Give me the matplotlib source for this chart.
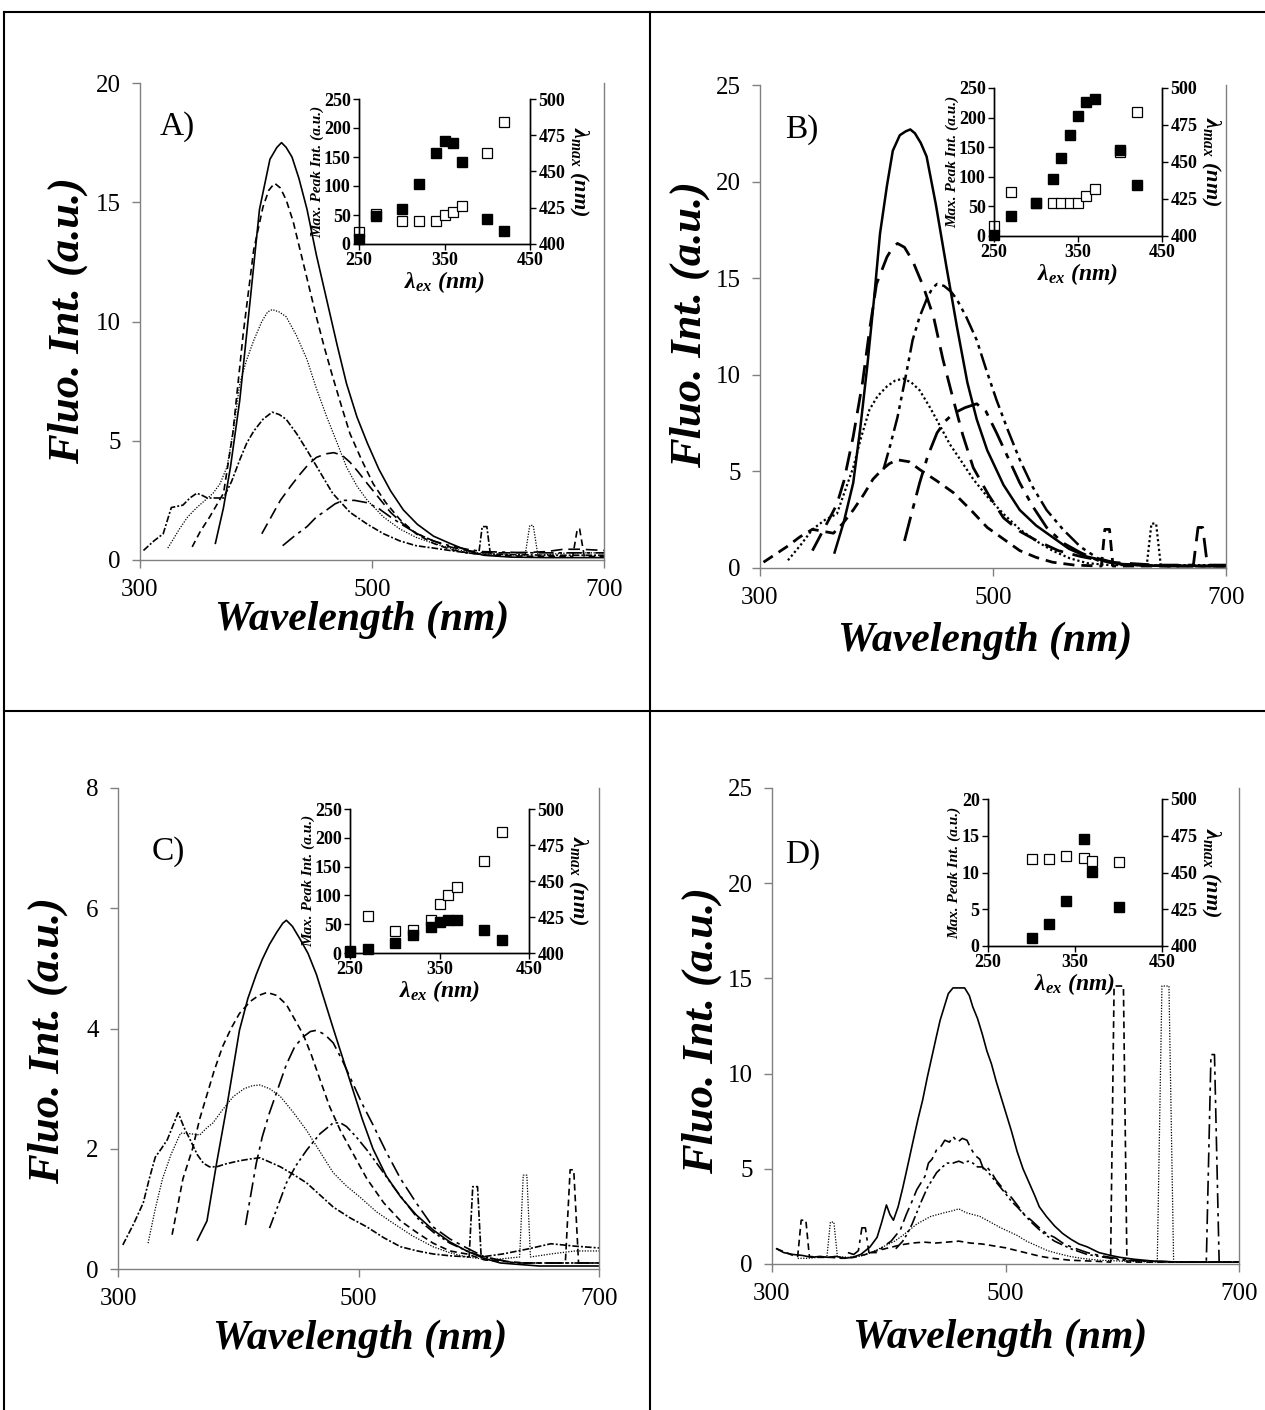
import matplotlib
matplotlib.use("Agg")
from matplotlib import pyplot as plt
from matplotlib.lines import Line2D

plt.rcParams['font.family'] = ['Liberation Serif', 'DejaVu Serif']
plt.rcParams['mathtext.fontset'] = 'custom'
plt.rcParams['mathtext.rm'] = 'Liberation Serif:bold'
plt.rcParams['mathtext.it'] = 'Liberation Serif:bold:italic'
plt.rcParams['mathtext.bf'] = 'Liberation Serif:bold'

# ---- emission spectra, (wavelength nm, intensity a.u.), one list per excitation ----
# panel A
a350 = [(365,0.7),(372,2.2),(378,3.9),(386,6.7),(395,10.9),(403,14.7),(412,16.8),(418,17.3),(422,17.5),
        (426,17.3),(431,16.9),(437,16.0),(444,14.7),(452,12.8),(461,10.9),(470,9.0),(478,7.4),(487,6.0),
        (496,4.9),(506,3.8),(516,2.9),(527,2.1),(539,1.5),(553,1.0),(567,0.7),(582,0.4),(596,0.2),
        (620,0.12),(650,0.1),(700,0.1)]
a340 = [(345,0.55),(352,1.2),(360,1.8),(366,2.3),(372,2.8),(380,5.3),(389,9.5),(398,13.0),(406,14.8),
        (411,15.5),(416,15.8),(421,15.6),(426,15.1),(432,14.2),(438,13.0),(445,11.6),(452,10.2),(459,8.9),
        (466,7.7),(474,6.4),(481,5.3),(491,4.2),(501,3.2),(512,2.4),(524,1.7),(538,1.1),(553,0.7),
        (567,0.45),(582,0.3),(600,0.2),(640,0.15),(673,0.15),(677,1.3),(679,1.3),(683,0.15),(700,0.15)]
a320 = [(324,0.5),(334,1.3),(341,1.8),(349,2.2),(356,2.5),(363,2.8),(369,3.2),(375,3.9),(381,5.6),
        (386,7.4),(392,8.4),(398,9.2),(405,10.0),(410,10.4),(414,10.5),(420,10.4),(426,10.2),(435,9.4),
        (444,8.4),(452,7.2),(461,6.0),(470,4.9),(478,3.9),(487,3.1),(496,2.5),(510,1.8),(524,1.3),
        (538,0.95),(553,0.7),(567,0.5),(582,0.35),(600,0.25),(632,0.2),(636,1.45),(639,1.45),(643,0.2),
        (670,0.3),(700,0.3)]
a300 = [(303,0.4),(312,0.8),(320,1.1),(327,2.2),(337,2.3),(343,2.6),(349,2.8),(354,2.7),(358,2.6),
        (365,2.6),(372,2.6),(379,3.3),(386,4.2),(392,4.9),(398,5.4),(406,5.9),(414,6.2),(420,6.1),
        (426,5.9),(435,5.3),(444,4.6),(455,3.7),(466,2.8),(481,2.0),(496,1.5),(510,1.1),(524,0.8),
        (538,0.6),(553,0.5),(567,0.4),(582,0.3),(592,0.25),(595,1.4),(599,1.4),(602,0.25),(650,0.2),
        (700,0.2)]
a400 = [(405,1.1),(413,1.8),(421,2.5),(430,3.1),(438,3.6),(445,4.0),(452,4.3),(460,4.45),(467,4.5),
        (474,4.4),(481,4.1),(488,3.7),(496,3.2),(506,2.6),(516,2.0),(527,1.5),(539,1.1),(553,0.8),
        (567,0.55),(582,0.4),(596,0.3),(625,0.3),(650,0.35),(665,0.45),(680,0.45),(700,0.4)]
a420 = [(423,0.6),(433,1.0),(444,1.4),(452,1.8),(461,2.1),(468,2.35),(475,2.5),(485,2.5),(496,2.4),
        (506,2.15),(516,1.8),(527,1.45),(539,1.1),(553,0.8),(567,0.6),(582,0.45),(596,0.35),(640,0.3),
        (700,0.3)]

# panel B
b360 = [(364,0.8),(372,2.4),(380,4.4),(386,7.2),(392,10.4),(398,14.0),(403,17.3),(409,19.8),(414,21.6),
        (420,22.4),(425,22.6),(429,22.7),(433,22.5),(438,22.0),(443,21.3),(451,18.8),(460,15.6),
        (469,12.5),(478,9.6),(486,7.7),(495,6.1),(509,4.3),(523,3.0),(537,2.2),(551,1.6),(565,1.0),
        (580,0.6),(594,0.4),(610,0.2),(630,0.12),(700,0.1)]
b340 = [(345,0.9),(352,1.7),(360,2.6),(366,3.3),(372,4.5),(380,6.8),(388,9.6),(394,12.3),(400,14.7),
        (409,16.1),(414,16.6),(418,16.8),(424,16.6),(431,15.9),(440,14.6),(449,13.0),(457,10.8),
        (466,8.7),(474,6.9),(483,5.2),(496,3.8),(509,2.6),(523,1.9),(538,1.4),(556,0.9),(575,0.6),
        (600,0.3),(640,0.15),(672,0.15),(676,2.1),(680,2.1),(684,0.15),(700,0.15)]
b320 = [(324,0.4),(335,1.2),(345,2.0),(356,2.5),(366,2.8),(373,4.0),(380,5.2),(387,6.8),(394,8.2),
        (401,8.9),(409,9.4),(416,9.7),(423,9.8),(430,9.6),(437,9.2),(446,8.3),(455,7.3),(463,6.4),
        (472,5.6),(483,4.6),(495,3.7),(509,2.8),(523,2.0),(537,1.4),(551,0.9),(566,0.5),(581,0.25),
        (600,0.15),(632,0.15),(636,2.3),(640,2.3),(644,0.15),(700,0.15)]
b300 = [(303,0.3),(313,0.7),(323,1.1),(334,1.6),(345,2.0),(354,1.9),(363,1.8),(371,2.3),(380,3.0),
        (389,3.8),(397,4.6),(405,5.1),(411,5.4),(418,5.6),(428,5.5),(437,5.1),(452,4.5),(466,3.9),
        (481,3.0),(495,2.1),(509,1.5),(523,0.9),(537,0.55),(551,0.3),(570,0.15),(593,0.1),(596,2.0),
        (600,2.0),(603,0.1),(700,0.1)]
b400 = [(406,5.1),(412,6.4),(418,7.8),(425,9.9),(431,11.8),(437,13.0),(443,13.9),(448,14.5),(452,14.7),
        (458,14.6),(464,14.3),(469,13.9),(477,13.0),(486,11.8),(494,10.3),(503,8.7),(513,7.1),(523,5.6),
        (534,4.2),(546,3.0),(560,2.0),(575,1.1),(590,0.5),(610,0.2),(650,0.1),(700,0.1)]
b420 = [(424,1.4),(430,2.8),(437,4.4),(444,5.8),(452,7.0),(459,7.6),(466,8.0),(476,8.3),(486,8.5),
        (494,8.1),(503,7.0),(513,5.7),(523,4.4),(534,3.2),(546,2.1),(560,1.3),(575,0.8),(590,0.4),
        (610,0.2),(650,0.1),(700,0.1)]

# panel C
c360 = [(366,0.48),(374,0.8),(382,1.76),(391,2.76),(401,3.97),(408,4.5),(415,4.9),(420,5.15),(426,5.4),
        (432,5.6),(437,5.75),(440,5.8),(445,5.7),(451,5.5),(458,5.25),(465,4.9),(472,4.45),(479,4.0),
        (487,3.5),(495,3.0),(503,2.5),(512,2.0),(523,1.55),(535,1.2),(548,0.9),(562,0.65),(576,0.45),
        (590,0.3),(604,0.18),(618,0.1),(650,0.05),(700,0.05)]
c340 = [(345,0.57),(354,1.5),(362,2.0),(368,2.5),(374,2.9),(380,3.3),(387,3.7),(394,4.0),(401,4.25),
        (410,4.45),(417,4.55),(424,4.6),(432,4.55),(440,4.4),(447,4.15),(454,3.9),(461,3.55),(468,3.15),
        (476,2.7),(485,2.3),(496,1.9),(507,1.5),(521,1.1),(535,0.8),(549,0.6),(562,0.43),(576,0.3),
        (590,0.25),(605,0.15),(640,0.1),(672,0.1),(676,1.65),(679,1.65),(683,0.1),(700,0.1)]
c320 = [(325,0.43),(331,1.0),(337,1.5),(344,1.9),(352,2.26),(360,2.25),(368,2.23),(374,2.35),(379,2.43),
        (387,2.65),(396,2.87),(405,3.0),(412,3.05),(418,3.06),(426,3.0),(435,2.87),(446,2.6),(457,2.3),
        (468,1.95),(479,1.6),(490,1.38),(501,1.2),(515,0.95),(529,0.76),(545,0.55),(562,0.37),
        (576,0.27),(590,0.2),(610,0.15),(634,0.2),(637,1.56),(640,1.56),(643,0.2),(660,0.25),(680,0.3),
        (700,0.3)]
c300 = [(304,0.4),(313,0.75),(321,1.1),(326,1.5),(331,1.86),(336,2.0),(341,2.15),(346,2.4),(350,2.6),
        (355,2.35),(360,2.15),(366,1.9),(371,1.76),(376,1.7),(382,1.7),(390,1.75),(401,1.8),(410,1.83),
        (418,1.85),(426,1.78),(435,1.7),(446,1.57),(457,1.43),(468,1.23),(479,1.03),(493,0.85),
        (507,0.7),(521,0.52),(535,0.37),(549,0.3),(562,0.25),(576,0.22),(592,0.2),(595,1.37),(599,1.37),
        (602,0.2),(620,0.25),(640,0.33),(660,0.42),(680,0.38),(700,0.35)]
c400 = [(406,0.73),(411,1.3),(415,1.76),(420,2.2),(426,2.6),(433,3.0),(440,3.4),(447,3.7),(454,3.86),
        (460,3.95),(465,3.97),(472,3.9),(479,3.76),(487,3.45),(495,3.1),(503,2.75),(512,2.4),(523,1.95),
        (535,1.5),(548,1.1),(562,0.7),(576,0.5),(590,0.35),(605,0.2),(630,0.1),(700,0.1)]
c420 = [(426,0.68),(433,1.05),(440,1.43),(448,1.72),(457,1.98),(468,2.25),(479,2.43),(485,2.43),
        (490,2.37),(498,2.2),(507,1.98),(518,1.68),(529,1.37),(540,1.08),(551,0.8),(563,0.6),(576,0.43),
        (590,0.3),(604,0.2),(630,0.1),(700,0.1)]

# panel D
d360 = [(304,0.8),(310,0.6),(318,0.5),(326,0.45),(334,0.35),(341,0.4),(348,0.35),(355,0.4),(362,0.3),
        (369,0.35),(376,0.5),(384,0.9),(390,1.4),(394,2.2),(398,3.1),(401,2.6),(404,2.3),(408,3.0),
        (412,4.0),(416,5.1),(421,6.5),(425,7.6),(429,8.6),(433,9.8),(437,10.9),(441,12.0),(444,12.8),
        (448,13.6),(451,14.2),(455,14.5),(460,14.5),(465,14.5),(469,14.1),(472,13.5),(476,12.9),
        (480,12.1),(484,11.2),(488,10.5),(492,9.6),(496,8.8),(500,8.0),(505,7.0),(510,5.9),(515,5.0),
        (520,4.3),(525,3.6),(529,3.0),(535,2.5),(542,2.0),(549,1.6),(556,1.3),(563,1.05),(570,0.9),
        (580,0.6),(590,0.45),(598,0.35),(610,0.25),(627,0.15),(650,0.1),(700,0.1)]
d340 = [(365,0.6),(370,0.5),(374,0.7),(377,1.9),(380,1.9),(383,0.6),(390,0.6),(395,0.9),(402,1.2),
        (410,1.8),(415,2.6),(420,3.3),(424,3.9),(427,4.2),(431,4.6),(434,5.3),(437,5.5),(441,6.0),
        (445,6.2),(448,6.5),(452,6.4),(455,6.7),(459,6.4),(463,6.6),(467,6.5),(470,6.1),(474,5.7),
        (478,5.5),(481,5.0),(484,5.1),(488,4.8),(492,4.4),(496,4.1),(500,3.8),(505,3.5),(510,3.1),
        (516,2.6),(522,2.3),(529,1.9),(535,1.6),(542,1.4),(549,1.1),(556,0.9),(563,0.75),(570,0.6),
        (580,0.45),(590,0.35),(600,0.25),(620,0.15),(650,0.1),(672,0.1),(676,11.0),(679,11.0),
        (683,0.1),(700,0.1)]
d400 = [(406,0.8),(412,1.2),(416,1.6),(420,2.1),(424,2.7),(428,3.3),(433,4.0),(437,4.4),(441,4.8),
        (446,5.1),(450,5.3),(455,5.3),(460,5.4),(464,5.3),(468,5.4),(472,5.3),(476,5.1),(480,5.1),
        (484,4.9),(488,4.6),(492,4.3),(496,4.0),(500,3.7),(505,3.3),(510,3.0),(516,2.6),(522,2.2),
        (529,1.8),(535,1.5),(542,1.2),(549,1.0),(556,0.8),(563,0.65),(570,0.5),(580,0.4),(590,0.3),
        (600,0.2),(620,0.15),(650,0.1),(700,0.1)]
d320 = [(322,0.3),(330,0.3),(340,0.35),(347,0.35),(350,2.2),(353,2.2),(356,0.4),(365,0.35),(375,0.4),
        (385,0.6),(395,0.9),(405,1.2),(412,1.5),(418,1.8),(424,2.1),(430,2.3),(436,2.5),(442,2.6),
        (448,2.7),(455,2.8),(460,2.9),(466,2.7),(472,2.6),(478,2.5),(484,2.3),(490,2.1),(496,1.9),
        (503,1.7),(510,1.5),(518,1.2),(527,0.95),(536,0.7),(545,0.55),(555,0.4),(565,0.3),(580,0.2),
        (600,0.15),(630,0.1),(634,14.6),(640,14.6),(644,0.1),(660,0.1),(700,0.1)]
d300 = [(304,0.8),(312,0.6),(318,0.45),(322,0.4),(325,2.3),(329,2.3),(332,0.4),(340,0.35),(350,0.35),
        (360,0.3),(370,0.35),(380,0.5),(390,0.7),(400,0.85),(410,1.0),(420,1.1),(430,1.15),(440,1.1),
        (450,1.15),(460,1.2),(470,1.1),(480,1.05),(490,0.95),(500,0.85),(510,0.7),(520,0.55),(530,0.4),
        (540,0.3),(555,0.2),(575,0.15),(590,0.1),(593,14.6),(601,14.6),(604,0.1),(650,0.1),(700,0.1)]

# ---- inset data: excitation wavelength vs peak intensity and emission maximum ----
ex_a = [250, 270, 300, 320, 340, 350, 360, 370, 400, 420]
peak_a = [8, 48, 60, 103, 157, 178, 174, 141, 43, 23]
lmax_a = [408, 421, 416, 416, 416, 420, 422, 426, 463, 484]

ex_b = [250, 270, 300, 320, 330, 340, 350, 360, 370, 400, 420]
peak_b = [1, 33, 55, 97, 131, 170, 202, 226, 231, 146, 86]
lmax_b = [407, 430, 422, 422, 422, 422, 422, 427, 432, 457, 484]

ex_c = [250, 270, 300, 320, 340, 350, 360, 370, 400, 420]
peak_c = [3, 7, 18, 31, 46, 53, 57, 57, 40, 22]
lmax_c = [401, 426, 415, 416, 423, 434, 440, 446, 464, 484]

ex_d = [300, 320, 340, 360, 370, 400]
peak_d = [1.1, 3.0, 6.1, 14.5, 10.1, 5.3]
lmax_d = [459, 459, 461, 460, 458, 457]

W, H = 1265, 1410
fig = plt.figure(figsize=(W / 100, H / 100), dpi=100)


def box(x0, y0, x1, y1):
    return [x0 / W, 1 - y1 / H, (x1 - x0) / W, (y1 - y0) / H]


def ftext(x, y, s, **kw):
    fig.text(x / W, 1 - y / H, s, **kw)


SOLID = '-'
DASH = (0, (4, 2.5))
LDASH = (0, (7, 3.5))
DOT = (0, (1, 1.2))
DDOT = (0, (4, 1.2, 1.2, 1.2))
DASHDOT = (0, (9, 3, 2, 3))
DASHDOTDOT = (0, (7, 2, 1.5, 2, 1.5, 2))
AXIS_GREY = '#808080'


def spectra(rect, ymax, ystep, curves, tag, tag_xy, xlab_xy, ylab_xy):
    ax = fig.add_axes(box(*rect))
    ax.set_facecolor('none')
    for pts, ls, lw in curves:
        wl = [p[0] for p in pts]
        val = [p[1] for p in pts]
        ax.plot(wl, val, color='black', lw=lw, linestyle=ls)
    ax.set_xlim(300, 700)
    ax.set_ylim(0, ymax)
    ax.set_xticks([300, 500, 700])
    ax.set_yticks(list(range(0, ymax + 1, ystep)))
    for side in ['left', 'bottom', 'right']:
        ax.spines[side].set_color(AXIS_GREY)
        ax.spines[side].set_linewidth(1.0)
    ax.spines['top'].set_visible(False)
    ax.tick_params(direction='out', length=6, width=1.0, color=AXIS_GREY, labelsize=18)
    ax.tick_params(axis='x', pad=8)
    ax.tick_params(axis='y', pad=8)
    ftext(*tag_xy, tag, fontsize=24, ha='left', va='center')
    ftext(*xlab_xy, 'Wavelength (nm)', fontsize=30, fontweight='bold',
          fontstyle='italic', ha='center', va='center')
    ftext(*ylab_xy, 'Fluo. Int. (a.u.)', fontsize=32, fontweight='bold',
          fontstyle='italic', ha='center', va='center', rotation=90)
    return ax


def inset(rect, ex, peak, lmax, ymax, ystep):
    ax = fig.add_axes(box(*rect))
    ax2 = ax.twinx()
    ax.set_zorder(ax2.get_zorder() + 1)
    ax.patch.set_visible(False)
    ax2.set_facecolor('white')
    # open squares (emission maximum) sit behind the filled ones (peak intensity)
    ax2.plot(ex, lmax, 's', ms=7, mfc='white', mec='black', mew=0.9, clip_on=False)
    ax.plot(ex, peak, 's', ms=7, color='black', clip_on=False)
    ax.set_xlim(250, 450)
    ax.set_ylim(0, ymax)
    ax2.set_ylim(400, 500)
    ax.set_xticks([250, 350, 450])
    ax.set_yticks(list(range(0, ymax + 1, ystep)))
    ax2.set_yticks([400, 425, 450, 475, 500])
    for a in (ax, ax2):
        a.tick_params(direction='out', length=4, width=1.0, labelsize=13, pad=2)
        for lbl in a.get_xticklabels() + a.get_yticklabels():
            lbl.set_fontweight('bold')
        for s in a.spines.values():
            s.set_linewidth(1.0)
    ax.spines['top'].set_visible(False)
    ax2.spines['top'].set_visible(False)
    ax.set_xlabel('λ$_{ex}$ (nm)', fontsize=17, fontweight='bold',
                  fontstyle='italic', labelpad=0)
    ax.set_ylabel('Max. Peak Int. (a.u.)', fontsize=11, fontweight='bold',
                  fontstyle='italic', labelpad=0)
    ax2.set_ylabel('λ$_{max}$ (nm)', fontsize=16, fontweight='bold',
                   fontstyle='italic', rotation=270, labelpad=18)
    return ax


# A)
spectra((140, 83, 604, 560), 20, 5,
        [(a350, SOLID, 1.2), (a340, DASH, 1.2), (a320, DOT, 0.9),
         (a300, DDOT, 1.2), (a400, LDASH, 1.2), (a420, DASHDOT, 1.2)],
        'A)', (160, 127), (362, 620), (68, 320))
inset((359, 99, 530, 244), ex_a, peak_a, lmax_a, 250, 50)

# B)
spectra((760, 85, 1226, 568), 25, 5,
        [(b360, SOLID, 1.8), (b340, LDASH, 2.0), (b320, DOT, 1.6),
         (b300, DASH, 2.0), (b400, DASHDOTDOT, 1.8), (b420, DASHDOT, 2.0)],
        'B)', (785, 130), (985, 641), (690, 325))
inset((994, 88, 1162, 236), ex_b, peak_b, lmax_b, 250, 50)

# C)
spectra((118, 788, 599, 1269), 8, 2,
        [(c360, SOLID, 1.2), (c340, DASH, 1.2), (c320, DOT, 0.9),
         (c300, DDOT, 1.2), (c400, DASHDOT, 1.2), (c420, DASHDOTDOT, 1.2)],
        'C)', (152, 852), (360, 1339), (48, 1040))
inset((350, 809, 529, 953), ex_c, peak_c, lmax_c, 250, 50)

# D)
spectra((772, 788, 1239, 1264), 25, 5,
        [(d360, SOLID, 1.2), (d340, DASHDOT, 1.2), (d320, DOT, 0.9),
         (d300, DASH, 1.2), (d400, DASHDOTDOT, 1.2)],
        'D)', (785, 855), (1000, 1338), (702, 1030))
inset((988, 799, 1162, 946), ex_d, peak_d, lmax_d, 20, 5)

# table grid around the four panels
for (x0, y0, x1, y1) in [(4, 12, W, 12), (4, 711, W, 711), (4, 12, 4, H), (650, 12, 650, H)]:
    fig.add_artist(Line2D([x0 / W, x1 / W], [1 - y0 / H, 1 - y1 / H], color='black', lw=1.5))

fig.savefig('out.png', dpi=100)
